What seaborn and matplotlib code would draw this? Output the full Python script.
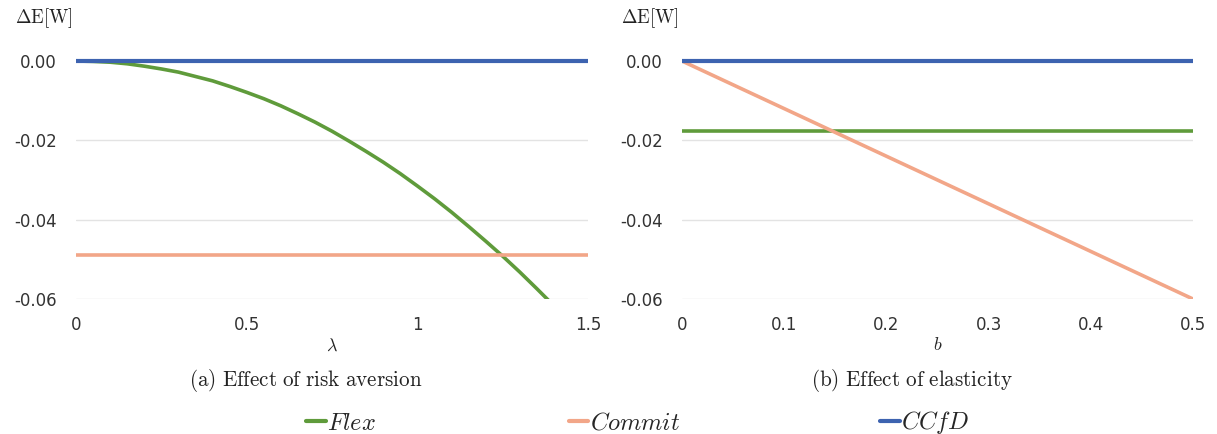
import numpy as np
import pandas as pd
import matplotlib
matplotlib.use("Agg")
import matplotlib.pyplot as plt
import seaborn as sns
from matplotlib.lines import Line2D

# ---- data ----
lam = [0.0, 0.05, 0.1, 0.15, 0.2, 0.25, 0.3, 0.35, 0.4, 0.45, 0.5, 0.55, 0.6, 0.65,
       0.7, 0.75, 0.8, 0.85, 0.9, 0.95, 1.0, 1.05, 1.1, 1.15, 1.2, 1.25, 1.3, 1.35,
       1.4, 1.45, 1.5]
flex_lam = [0.0, -0.0001, -0.0003, -0.0007, -0.0013, -0.0020, -0.0028, -0.0039,
            -0.0050, -0.0064, -0.0079, -0.0095, -0.0113, -0.0133, -0.0154, -0.0177,
            -0.0202, -0.0228, -0.0255, -0.0284, -0.0315, -0.0347, -0.0381, -0.0417,
            -0.0454, -0.0492, -0.0532, -0.0574, -0.0617, -0.0662, -0.0709]
commit_lam = [-0.049] * len(lam)
ccfd_lam = [0.0] * len(lam)

b = [0.0, 0.1, 0.2, 0.3, 0.4, 0.5]
flex_b = [-0.0176] * len(b)
commit_b = [0.0, -0.012, -0.024, -0.036, -0.048, -0.060]
ccfd_b = [0.0] * len(b)

series = ["Flex", "Commit", "CCfD"]
colors = {"Flex": "#5f9b3b", "Commit": "#f2a688", "CCfD": "#3d63b0"}
yticks = [0.0, -0.02, -0.04, -0.06]
xticks_a = [0, 0.5, 1, 1.5]
xticks_b = [0, 0.1, 0.2, 0.3, 0.4, 0.5]

df_a = pd.DataFrame({"x": lam * 3, "y": flex_lam + commit_lam + ccfd_lam,
                     "s": ["Flex"] * len(lam) + ["Commit"] * len(lam) + ["CCfD"] * len(lam)})
df_b = pd.DataFrame({"x": b * 3, "y": flex_b + commit_b + ccfd_b,
                     "s": ["Flex"] * len(b) + ["Commit"] * len(b) + ["CCfD"] * len(b)})

sns.set_theme(style="white")
plt.rcParams["mathtext.fontset"] = "cm"
plt.rcParams["font.family"] = ["DejaVu Sans"]

fig = plt.figure(figsize=(12.17, 4.34), dpi=100)
ax1 = fig.add_axes([0.0625, 0.311, 0.4207, 0.5484])
ax2 = fig.add_axes([0.5604, 0.311, 0.4199, 0.5484])

for ax, df, xt, xlab, cap, cx in [
    (ax1, df_a, xticks_a, r"$\lambda$", r"$\mathrm{(a)\ Effect\ of\ risk\ aversion}$", 0.2514),
    (ax2, df_b, xticks_b, r"$b$", r"$\mathrm{(b)\ Effect\ of\ elasticity}$", 0.7490),
]:
    sns.lineplot(data=df, x="x", y="y", hue="s", hue_order=series, palette=colors,
                 linewidth=2.6, ax=ax, legend=False, sort=True)
    ax.set_xlim(xt[0], xt[-1])
    ax.set_ylim(-0.06, 0.0)
    ax.set_yticks(yticks)
    ax.set_yticklabels([f"{v:.2f}" for v in yticks])
    ax.set_xticks(xt)
    ax.set_xticklabels([f"{v:g}" for v in xt])
    for s in ax.spines.values():
        s.set_visible(False)
    ax.grid(axis="y", color="#e3e3e3", linewidth=1.0)
    ax.grid(axis="x", visible=False)
    ax.set_axisbelow(True)
    ax.tick_params(axis="both", length=0, labelsize=12, colors="#333333")
    ax.tick_params(axis="x", pad=12)
    ax.tick_params(axis="y", pad=14)
    lines = ax.get_lines()
    for line in lines:
        line.set_solid_capstyle("butt")
    # the CCfD line sits on the top edge: draw it unclipped
    lines[2].set_clip_on(False)
    lines[2].set_linewidth(3.0)
    ax.set_xlabel(xlab, fontsize=13, labelpad=2)
    ax.set_ylabel("")
    ax.text(-0.12, 1.18, r"$\Delta\mathrm{E[W]}$", transform=ax.transAxes,
            fontsize=13.5, ha="left", va="center", color="#222222")
    fig.text(cx, 1 - 380 / 434, cap, fontsize=15.2,
             ha="center", va="center", color="#222222")

# legend
series_labels = [r"$Flex$", r"$Commit$", r"$CCfD$"]
pos = [(0.2515, 0.026), (0.4675, 0.026), (0.7235, 0.026)]
for s, l, p in zip(series, series_labels, pos):
    h = Line2D([0], [0], color=colors[s], linewidth=3)
    fig.legend([h], [l], loc="center left", bbox_to_anchor=p, frameon=False,
               fontsize=17.5, handlelength=0.8, handletextpad=0.05, borderaxespad=0,
               borderpad=0)

fig.savefig("out.png", dpi=100)
